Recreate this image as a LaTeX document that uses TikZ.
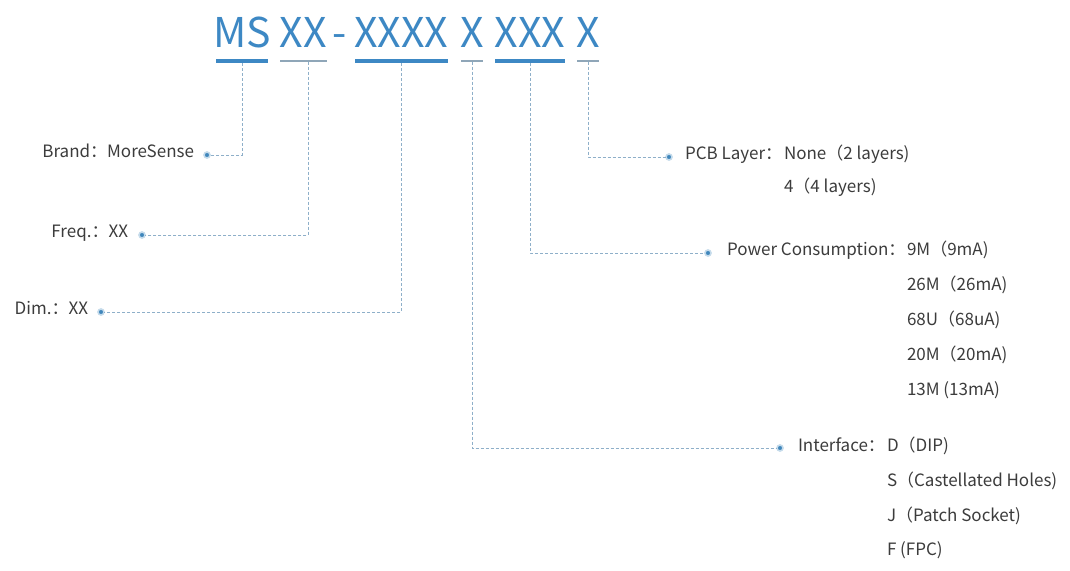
\documentclass[tikz,border=0pt]{standalone}
\usepackage{fontspec}
\setmainfont{Noto Sans CJK SC}
\begin{document}
\begin{tikzpicture}[x=1pt,y=-1pt,
  every node/.style={inner sep=0pt,outer sep=0pt},
  title/.style={anchor=base,text=titleblue,font=\fontsize{41}{41}\selectfont},
  thickbar/.style={fill=titleblue,minimum height=4pt,rectangle},
  thinbar/.style={fill=thingrey,minimum height=1.4pt,rectangle},
  conn/.style={draw=connblue,line width=0.9pt,dash pattern=on 3pt off 2pt},
  dotnode/.style={circle,fill=dotblue,minimum size=6pt,draw=dotblue!30,line width=1.6pt},
  lbl/.style={text=textgrey,font=\fontsize{17}{19}\selectfont},
]
\definecolor{titleblue}{HTML}{3D88C4}
\definecolor{thingrey}{HTML}{8FA6B8}
\definecolor{connblue}{HTML}{8EAFC9}
\definecolor{dotblue}{HTML}{3F86BB}
\definecolor{textgrey}{HTML}{3C3C3C}
\useasboundingbox (0,0) rectangle (1070,570);
\fill[white] (0,0) rectangle (1070,570);

% title parts
\node[title] (tms) at (242,47) {MS};
\node[title] (txx) at (303,47) {XX};
\node[title] (tdash) at (340,47) {-};
\node[title] (tdim) at (401,47) {XXXX};
\node[title] (tif) at (472,47) {X};
\node[title] (tpow) at (530,47) {XXX};
\node[title] (tpcb) at (588,47) {X};

% underline bars
\node[thickbar,minimum width=52pt] (bms) at (242,61) {};
\node[thinbar,minimum width=47pt] (bxx) at (303,61) {};
\node[thickbar,minimum width=93pt] (bdim) at (401,61) {};
\node[thinbar,minimum width=22pt] (bif) at (472,61) {};
\node[thickbar,minimum width=70pt] (bpow) at (530,61) {};
\node[thinbar,minimum width=22pt] (bpcb) at (588,61) {};

% dots
\node[dotnode] (dms) at (207,155) {};
\node[dotnode] (dxx) at (142,235) {};
\node[dotnode] (ddim) at (101,312) {};
\node[dotnode] (dpcb) at (669,157) {};
\node[dotnode] (dpow) at (708,253) {};
\node[dotnode] (dif) at (780,448) {};

% connectors
\draw[conn] ([xshift=5pt]bxx.south) |- (dxx);
\draw[conn] (bms.south) |- (dms);
\draw[conn] (bdim.south) |- (ddim);
\draw[conn] (bpcb.south) |- (dpcb);
\draw[conn] (bpow.south) |- (dpow);
\draw[conn] (bif.south) |- (dif);

% left labels
\node[lbl,anchor=mid east] (lms) at (194,155) {Brand：MoreSense};
\node[lbl,anchor=mid east] (lxx) at (128,235) {Freq.：XX};
\node[lbl,anchor=mid east] (ldim) at (88,312) {Dim.：XX};

% right labels
\node[lbl,anchor=mid west] (lpcb) at (685,157) {PCB Layer：};
\node[lbl,anchor=mid west] (vpcb1) at (784,157) {None（2 layers)};
\node[lbl,anchor=mid west] (vpcb2) at (784,190) {4（4 layers)};

\node[lbl,anchor=mid west] (lpow) at (727,253) {Power Consumption：};
\node[lbl,anchor=mid west] (vpow1) at (907,253) {9M（9mA)};
\node[lbl,anchor=mid west] (vpow2) at (907,288) {26M（26mA)};
\node[lbl,anchor=mid west] (vpow3) at (907,323) {68U（68uA)};
\node[lbl,anchor=mid west] (vpow4) at (907,358) {20M（20mA)};
\node[lbl,anchor=mid west] (vpow5) at (907,393) {13M (13mA)};

\node[lbl,anchor=mid west] (lif) at (798,449) {Interface：};
\node[lbl,anchor=mid west] (vif1) at (887,449) {D（DIP)};
\node[lbl,anchor=mid west] (vif2) at (887,484) {S（Castellated Holes)};
\node[lbl,anchor=mid west] (vif3) at (887,519) {J（Patch Socket)};
\node[lbl,anchor=mid west] (vif4) at (887,553) {F (FPC)};
\end{tikzpicture}
\end{document}
